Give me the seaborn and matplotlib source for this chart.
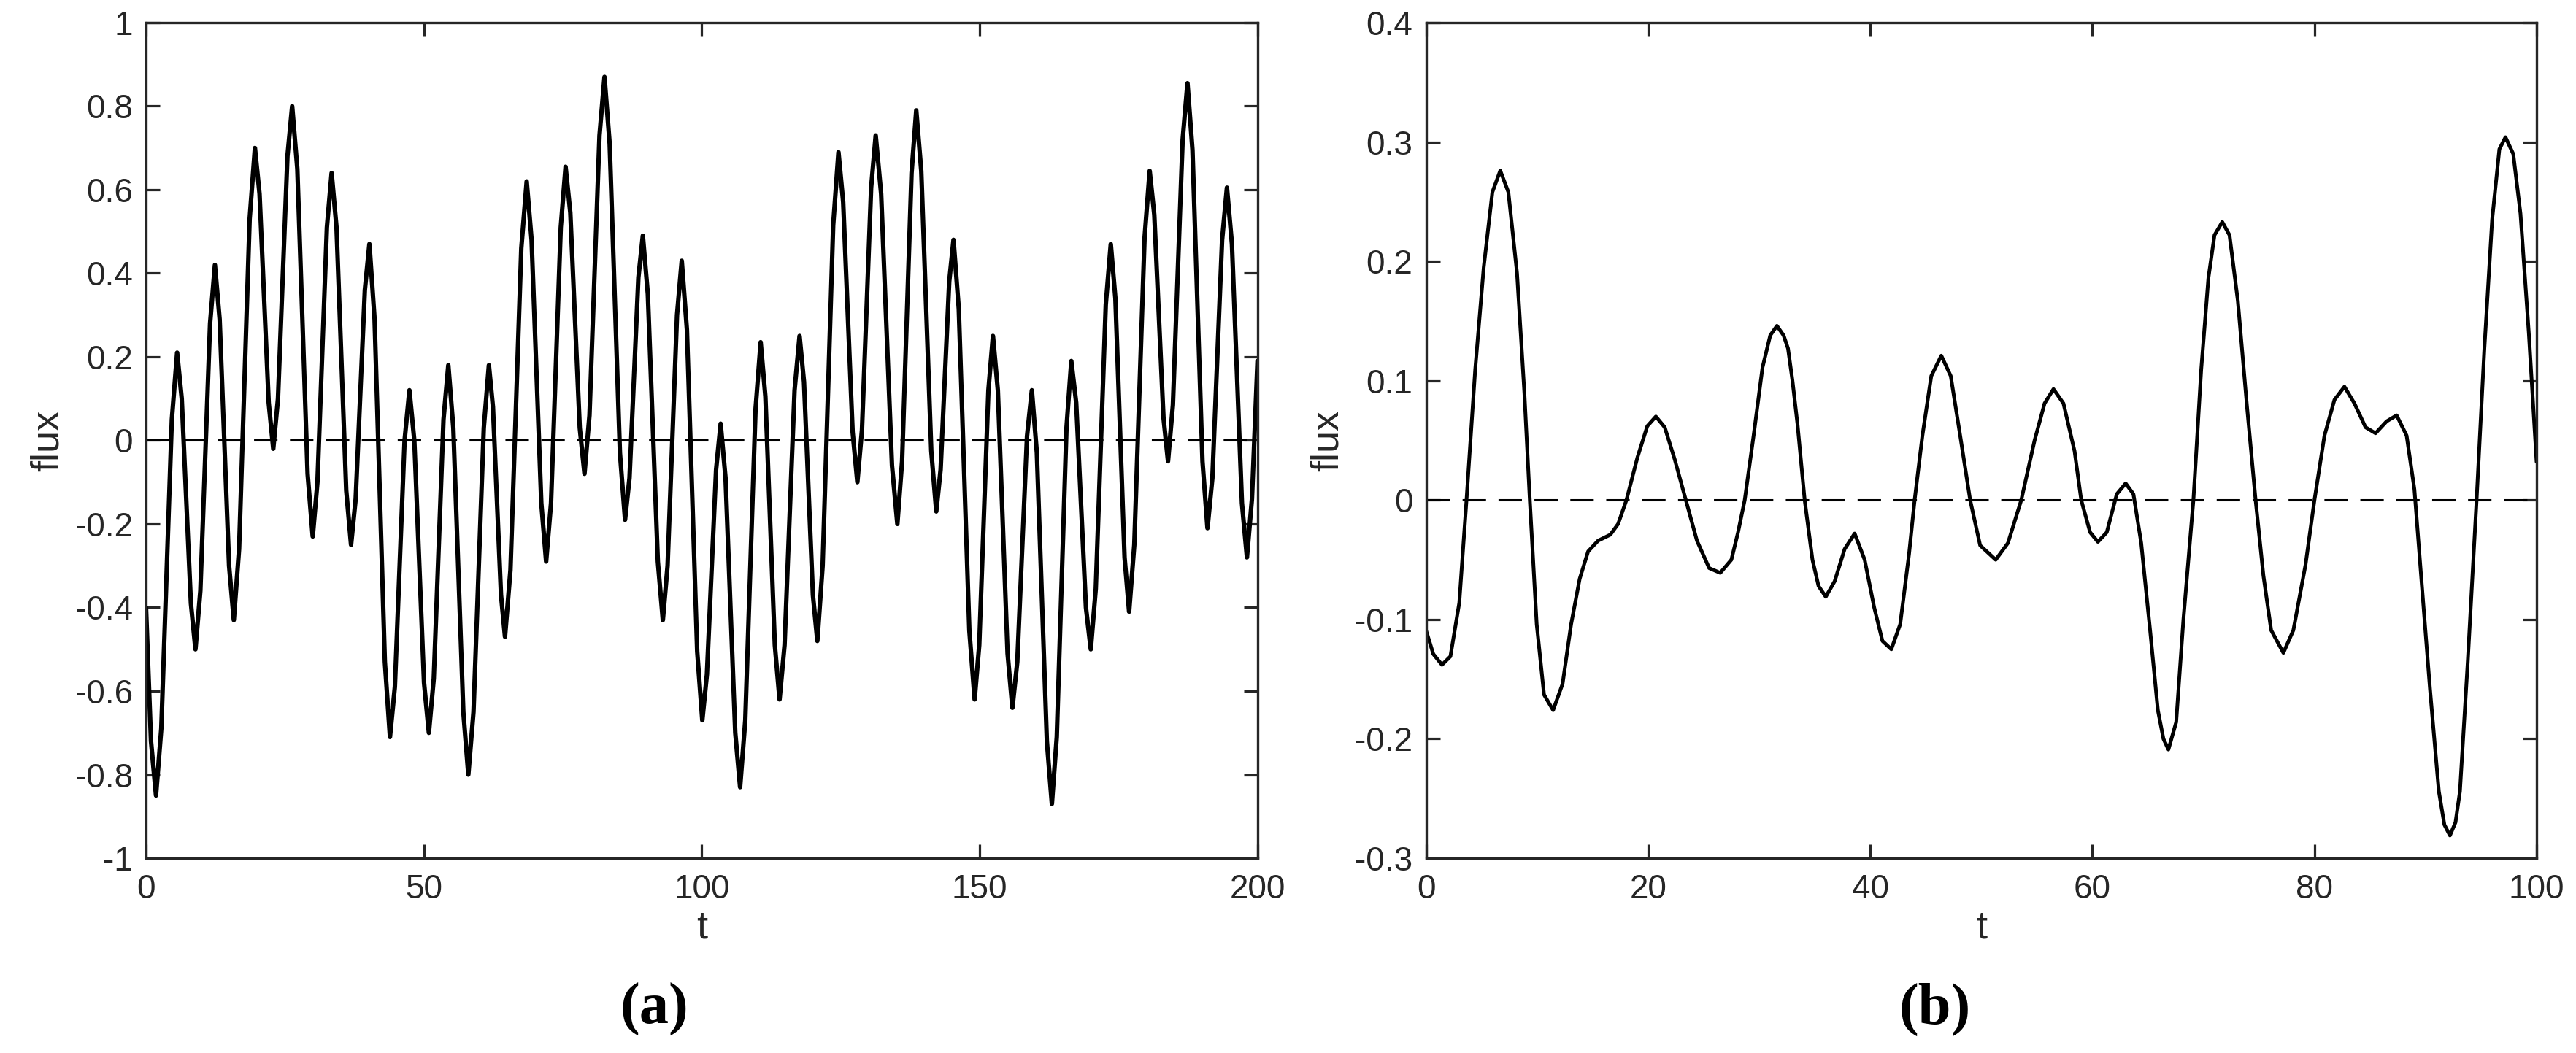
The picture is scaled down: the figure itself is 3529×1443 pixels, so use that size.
import numpy as np
import pandas as pd
import matplotlib
matplotlib.use("Agg")
import matplotlib.pyplot as plt
import seaborn as sns

# ---------------- data ----------------
# panel (a): flux signal (extrema plus points on each flank), t in [0, 200]
t_a = [0.0, 0.9, 1.8, 2.75, 4.65, 5.6, 6.43, 8.08, 8.9, 9.78, 11.53, 12.4, 13.25,
       14.95, 15.8, 16.75, 18.65, 19.6, 20.43, 22.08, 22.9, 23.75, 25.45, 26.3,
       27.23, 29.08, 30.0, 30.85, 32.55, 33.4, 34.28, 36.03, 36.9, 37.73, 39.38,
       40.2, 41.13, 42.98, 43.9, 44.78, 46.53, 47.4, 48.28, 50.03, 50.9, 51.78,
       53.53, 54.4, 55.3, 57.1, 58.0, 58.93, 60.78, 61.7, 62.43, 63.88, 64.6,
       65.58, 67.53, 68.5, 69.38, 71.13, 72.0, 72.88, 74.63, 75.5, 76.35, 78.05,
       78.9, 79.8, 81.6, 82.5, 83.43, 85.28, 86.2, 87.0, 88.6, 89.4, 90.3, 92.1,
       93.0, 93.85, 95.55, 96.4, 97.33, 99.18, 100.1, 100.93, 102.58, 103.4,
       104.28, 106.03, 106.9, 107.83, 109.68, 110.6, 111.45, 113.15, 114.0,
       114.9, 116.7, 117.6, 118.4, 120.0, 120.8, 121.75, 123.65, 124.6, 125.45,
       127.15, 128.0, 128.83, 130.48, 131.3, 132.28, 134.23, 135.2, 136.05,
       137.75, 138.6, 139.5, 141.3, 142.2, 142.98, 144.53, 145.3, 146.25, 148.15,
       149.1, 149.93, 151.58, 152.4, 153.28, 155.03, 155.9, 156.78, 158.53,
       159.4, 160.3, 162.1, 163.0, 163.88, 165.63, 166.5, 167.38, 169.13, 170.0,
       170.9, 172.7, 173.6, 174.43, 176.08, 176.9, 177.83, 179.68, 180.6, 181.43,
       183.08, 183.9, 184.78, 186.53, 187.4, 188.3, 190.1, 191.0, 191.88, 193.63,
       194.5, 195.4, 197.2, 198.1, 199.0, 200.0]
flux_a = [-0.40, -0.72, -0.85, -0.69, 0.05, 0.21, 0.10, -0.39, -0.50, -0.36, 0.28,
          0.42, 0.29, -0.30, -0.43, -0.26, 0.53, 0.70, 0.59, 0.09, -0.02, 0.10,
          0.68, 0.80, 0.65, -0.08, -0.23, -0.10, 0.51, 0.64, 0.51, -0.12, -0.25,
          -0.14, 0.36, 0.47, 0.29, -0.53, -0.71, -0.59, 0.00, 0.12, 0.00, -0.58,
          -0.70, -0.57, 0.05, 0.18, 0.03, -0.65, -0.80, -0.65, 0.03, 0.18, 0.08,
          -0.37, -0.47, -0.31, 0.46, 0.62, 0.48, -0.15, -0.29, -0.15, 0.51, 0.655,
          0.545, 0.03, -0.08, 0.06, 0.73, 0.87, 0.71, -0.03, -0.19, -0.09, 0.39,
          0.49, 0.35, -0.29, -0.43, -0.30, 0.30, 0.43, 0.265, -0.505, -0.67, -0.56,
          -0.07, 0.04, -0.09, -0.70, -0.83, -0.67, 0.075, 0.235, 0.105, -0.49,
          -0.62, -0.49, 0.12, 0.25, 0.14, -0.37, -0.48, -0.30, 0.515, 0.69, 0.57,
          0.02, -0.10, 0.025, 0.605, 0.73, 0.59, -0.06, -0.20, -0.05, 0.64, 0.79,
          0.645, -0.025, -0.17, -0.07, 0.38, 0.48, 0.315, -0.455, -0.62, -0.49,
          0.12, 0.25, 0.12, -0.51, -0.64, -0.53, 0.01, 0.12, -0.03, -0.72, -0.87,
          -0.71, 0.03, 0.19, 0.09, -0.40, -0.50, -0.355, 0.325, 0.47, 0.34, -0.28,
          -0.41, -0.25, 0.485, 0.645, 0.54, 0.055, -0.05, 0.085, 0.72, 0.855,
          0.695, -0.05, -0.21, -0.09, 0.48, 0.605, 0.47, -0.15, -0.28, -0.14, 0.19]

# panel (b): flux signal, t in [0, 100]
t_b = [0.0, 0.66, 1.44, 2.2, 3.0, 3.65, 4.43, 5.2, 5.98, 6.69, 7.42, 8.2, 8.86,
       9.35, 9.97, 10.63, 11.45, 12.3, 13.07, 13.84, 14.6, 15.5, 16.6, 17.3,
       18.05, 19.05, 19.93, 20.7, 21.5, 22.4, 23.4, 24.4, 25.5, 26.5, 27.5, 28.1,
       28.7, 29.5, 30.3, 31.0, 31.6, 32.2, 32.6, 33.0, 33.46, 34.1, 34.8, 35.35,
       36.0, 36.8, 37.7, 38.6, 39.5, 40.36, 41.1, 41.9, 42.7, 43.5, 44.0, 44.7,
       45.5, 46.4, 47.25, 48.1, 49.0, 49.9, 51.3, 52.4, 53.6, 54.8, 55.7, 56.5,
       57.4, 58.4, 59.0, 59.8, 60.5, 61.3, 62.2, 63.0, 63.7, 64.4, 65.2, 65.9,
       66.4, 66.85, 67.55, 68.2, 69.1, 69.8, 70.45, 71.0, 71.7, 72.35, 73.1, 73.9,
       74.7, 75.4, 76.1, 77.2, 78.1, 79.2, 80.0, 80.9, 81.8, 82.7, 83.6, 84.6,
       85.5, 86.5, 87.4, 88.3, 89.0, 89.6, 90.4, 91.2, 91.7, 92.2, 92.7, 93.1,
       93.8, 94.6, 95.3, 96.0, 96.65, 97.2, 97.9, 98.55, 99.3, 100.0]
flux_b = [-0.109, -0.129, -0.138, -0.131, -0.086, 0.0, 0.109, 0.195, 0.258, 0.276,
          0.258, 0.19, 0.09, 0.0, -0.104, -0.163, -0.176, -0.154, -0.104, -0.066,
          -0.043, -0.034, -0.029, -0.020, 0.0, 0.036, 0.062, 0.070, 0.061, 0.034,
          0.0, -0.034, -0.057, -0.061, -0.050, -0.027, 0.0, 0.054, 0.111, 0.138,
          0.146, 0.138, 0.127, 0.10, 0.063, 0.0, -0.05, -0.072, -0.081, -0.068,
          -0.041, -0.028, -0.05, -0.09, -0.118, -0.125, -0.104, -0.045, 0.0, 0.054,
          0.104, 0.121, 0.104, 0.054, 0.0, -0.038, -0.05, -0.036, 0.0, 0.05, 0.081,
          0.093, 0.081, 0.041, 0.0, -0.027, -0.035, -0.027, 0.005, 0.014, 0.005,
          -0.036, -0.109, -0.176, -0.200, -0.209, -0.186, -0.10, 0.0, 0.109, 0.186,
          0.222, 0.233, 0.222, 0.167, 0.081, 0.0, -0.063, -0.109, -0.128, -0.109,
          -0.054, 0.0, 0.054, 0.084, 0.095, 0.081, 0.061, 0.056, 0.066, 0.071,
          0.054, 0.009, -0.063, -0.158, -0.244, -0.272, -0.281, -0.270, -0.244,
          -0.136, 0.0, 0.127, 0.235, 0.294, 0.304, 0.29, 0.24, 0.14, 0.032]

assert len(t_a) == len(flux_a) and len(t_b) == len(flux_b)

baseline = 0.0

xticks_a = [0, 50, 100, 150, 200]
yticks_a = [-1, -0.8, -0.6, -0.4, -0.2, 0, 0.2, 0.4, 0.6, 0.8, 1]
ylabels_a = ['-1', '-0.8', '-0.6', '-0.4', '-0.2', '0', '0.2', '0.4', '0.6', '0.8', '1']
xticks_b = [0, 20, 40, 60, 80, 100]
yticks_b = [-0.3, -0.2, -0.1, 0, 0.1, 0.2, 0.3, 0.4]
ylabels_b = ['-0.3', '-0.2', '-0.1', '0', '0.1', '0.2', '0.3', '0.4']

# ---------------- styling ----------------
sns.set_theme(style="white")
plt.rcParams['font.family'] = ['Liberation Sans', 'DejaVu Sans']
plt.rcParams['axes.unicode_minus'] = False

EDGE = '#262626'
TICK_FS = 33
LABEL_FS = 39

fig = plt.figure(figsize=(35.3, 14.43), dpi=100)
axA = fig.add_axes([0.05666, 0.18503, 0.43136, 0.79349])
axB = fig.add_axes([0.55340, 0.18503, 0.43102, 0.79349])

df_a = pd.DataFrame({'t': t_a, 'flux': flux_a})
df_b = pd.DataFrame({'t': t_b, 'flux': flux_b})

sns.lineplot(data=df_a, x='t', y='flux', ax=axA, color='black', linewidth=4.4,
             estimator=None, sort=False)
sns.lineplot(data=df_b, x='t', y='flux', ax=axB, color='black', linewidth=3.6,
             estimator=None, sort=False)
for ax in (axA, axB):
    for ln in ax.get_lines():
        ln.set_solid_joinstyle('round')


def style(ax, xlim, ylim, xt, yt, ytl):
    ax.axhline(baseline, color='black', linewidth=2.2,
               linestyle=(0, (10.5, 5.6)), zorder=1)
    ax.set_xlim(*xlim)
    ax.set_ylim(*ylim)
    ax.set_xticks(xt)
    ax.set_xticklabels([str(v) for v in xt])
    ax.set_yticks(yt)
    ax.set_yticklabels(ytl)
    ax.tick_params(axis='both', which='major', direction='in', length=13.7,
                   width=2.3, color=EDGE, labelcolor=EDGE, labelsize=TICK_FS,
                   top=True, right=True, bottom=True, left=True)
    ax.tick_params(axis='x', pad=15)
    ax.tick_params(axis='y', pad=13)
    for s in ax.spines.values():
        s.set_visible(True)
        s.set_linewidth(2.4)
        s.set_color(EDGE)
    ax.set_xlabel('t', fontsize=LABEL_FS, color=EDGE, labelpad=4)
    ax.set_ylabel('flux', fontsize=LABEL_FS, color=EDGE, labelpad=9)
    ax.grid(False)


style(axA, (0, 200), (-1, 1), xticks_a, yticks_a, ylabels_a)
style(axB, (0, 100), (-0.3, 0.4), xticks_b, yticks_b, ylabels_b)

fig.text(0.254, 0.041, '(a)', fontsize=58, fontweight='bold',
         family=['Liberation Serif', 'DejaVu Serif'], ha='center', va='center',
         color='black')
fig.text(0.751, 0.041, '(b)', fontsize=58, fontweight='bold',
         family=['Liberation Serif', 'DejaVu Serif'], ha='center', va='center',
         color='black')

fig.savefig('out.png', dpi=100, facecolor='white')
